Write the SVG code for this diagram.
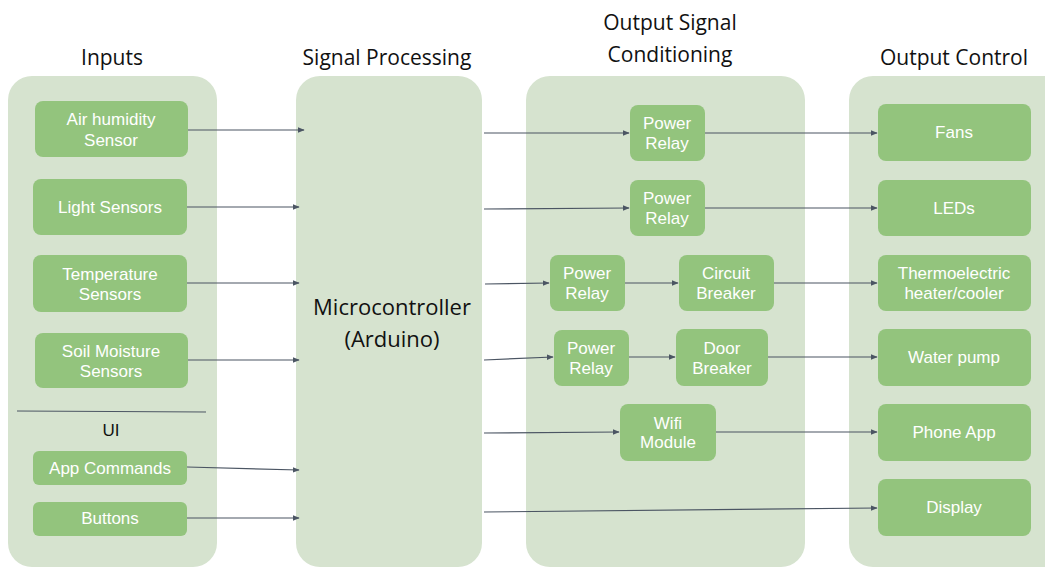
<svg xmlns="http://www.w3.org/2000/svg" width="1045" height="568" viewBox="0 0 1045 568">
<defs>
<marker id="ah" viewBox="0 0 10 10" refX="9" refY="5" markerWidth="7" markerHeight="7" orient="auto" markerUnits="userSpaceOnUse">
<path d="M0,1 L10,5 L0,9 Z" fill="#4b5563"/>
</marker>
<style>
.panel{fill:#d6e3cf}
.node{fill:#93c47d}
.t{font-family:"Liberation Sans",Arial,sans-serif;font-size:17px;fill:#ffffff;text-anchor:middle}
.h{font-family:"Open Sans",sans-serif;font-size:21px;fill:#111111;text-anchor:middle}
.e{stroke:#4b5563;stroke-width:1.2;fill:none;marker-end:url(#ah)}
</style>
</defs>
<rect width="1045" height="568" fill="#ffffff"/>
<g id="panels">
<rect class="panel" x="8" y="76" width="209" height="491" rx="24"/>
<rect class="panel" x="296" y="76" width="186" height="491" rx="24"/>
<rect class="panel" x="526" y="76" width="279" height="491" rx="24"/>
<rect class="panel" x="849" y="76" width="220" height="491" rx="24"/>
</g>
<g id="headers">
<text class="h" x="112" y="65">Inputs</text>
<text class="h" x="387" y="65">Signal Processing</text>
<text class="h" x="670" y="30">Output Signal</text>
<text class="h" x="670" y="62">Conditioning</text>
<text class="h" x="954" y="65">Output Control</text>
</g>
<g id="n-air"><rect class="node" x="35" y="101" width="153" height="56" rx="8"/><text class="t" x="111" y="125">Air humidity</text><text class="t" x="111" y="146">Sensor</text></g>
<g id="n-light"><rect class="node" x="33" y="179" width="154" height="56" rx="8"/><text class="t" x="110" y="213">Light Sensors</text></g>
<g id="n-temp"><rect class="node" x="33" y="255" width="154" height="57" rx="8"/><text class="t" x="110" y="280">Temperature</text><text class="t" x="110" y="300">Sensors</text></g>
<g id="n-soil"><rect class="node" x="35" y="333" width="153" height="55" rx="8"/><text class="t" x="111" y="357">Soil Moisture</text><text class="t" x="111" y="377">Sensors</text></g>
<g id="ui"><line x1="17" y1="411" x2="206" y2="412" stroke="#4b5563" stroke-width="1"/><text class="t" x="111" y="436" style="fill:#111111">UI</text></g>
<g id="n-app"><rect class="node" x="33" y="451" width="154" height="34" rx="6"/><text class="t" x="110" y="474">App Commands</text></g>
<g id="n-buttons"><rect class="node" x="33" y="502" width="154" height="34" rx="6"/><text class="t" x="110" y="524">Buttons</text></g>
<g id="n-mcu"><text class="h" x="392" y="315" style="font-size:22px">Microcontroller</text><text class="h" x="392" y="347" style="font-size:22px">(Arduino)</text></g>
<g id="n-pr1"><rect class="node" x="630" y="105" width="75" height="56" rx="8"/><text class="t" x="667" y="129">Power</text><text class="t" x="667" y="149">Relay</text></g>
<g id="n-pr2"><rect class="node" x="630" y="180" width="75" height="56" rx="8"/><text class="t" x="667" y="204">Power</text><text class="t" x="667" y="224">Relay</text></g>
<g id="n-pr3"><rect class="node" x="550" y="255" width="75" height="56" rx="8"/><text class="t" x="587" y="279">Power</text><text class="t" x="587" y="299">Relay</text></g>
<g id="n-cb"><rect class="node" x="679" y="255" width="95" height="56" rx="8"/><text class="t" x="726" y="279">Circuit</text><text class="t" x="726" y="299">Breaker</text></g>
<g id="n-pr4"><rect class="node" x="554" y="330" width="75" height="56" rx="8"/><text class="t" x="591" y="354">Power</text><text class="t" x="591" y="374">Relay</text></g>
<g id="n-db"><rect class="node" x="676" y="329" width="92" height="57" rx="8"/><text class="t" x="722" y="354">Door</text><text class="t" x="722" y="374">Breaker</text></g>
<g id="n-wifi"><rect class="node" x="620" y="404" width="96" height="57" rx="8"/><text class="t" x="668" y="429">Wifi</text><text class="t" x="668" y="448">Module</text></g>
<g id="n-fans"><rect class="node" x="878" y="104" width="153" height="57" rx="8"/><text class="t" x="954" y="138">Fans</text></g>
<g id="n-leds"><rect class="node" x="878" y="180" width="153" height="56" rx="8"/><text class="t" x="954" y="214">LEDs</text></g>
<g id="n-thermo"><rect class="node" x="878" y="255" width="153" height="56" rx="8"/><text class="t" x="954" y="279">Thermoelectric</text><text class="t" x="954" y="299">heater/cooler</text></g>
<g id="n-pump"><rect class="node" x="878" y="329" width="153" height="57" rx="8"/><text class="t" x="954" y="363">Water pump</text></g>
<g id="n-phone"><rect class="node" x="878" y="404" width="153" height="57" rx="8"/><text class="t" x="954" y="438">Phone App</text></g>
<g id="n-display"><rect class="node" x="878" y="479" width="153" height="57" rx="8"/><text class="t" x="954" y="513">Display</text></g>
<g id="connectors">
<path class="e" d="M188,130 L304,130"/>
<path class="e" d="M187,207 L299,207"/>
<path class="e" d="M187,283 L299,283"/>
<path class="e" d="M188,360 L299,360"/>
<path class="e" d="M187,467 L299,470"/>
<path class="e" d="M187,518 L299,518"/>
<path class="e" d="M484,133 L629,133"/>
<path class="e" d="M705,133 L877,133"/>
<path class="e" d="M484,209 L629,208"/>
<path class="e" d="M705,208 L877,208"/>
<path class="e" d="M485,284 L549,283"/>
<path class="e" d="M625,283 L678,283"/>
<path class="e" d="M774,283 L877,283"/>
<path class="e" d="M484,360 L553,357"/>
<path class="e" d="M629,357 L675,357"/>
<path class="e" d="M768,357 L877,357"/>
<path class="e" d="M484,433 L619,432"/>
<path class="e" d="M716,432 L877,432"/>
<path class="e" d="M484,512 L877,508"/>
</g>
</svg>
